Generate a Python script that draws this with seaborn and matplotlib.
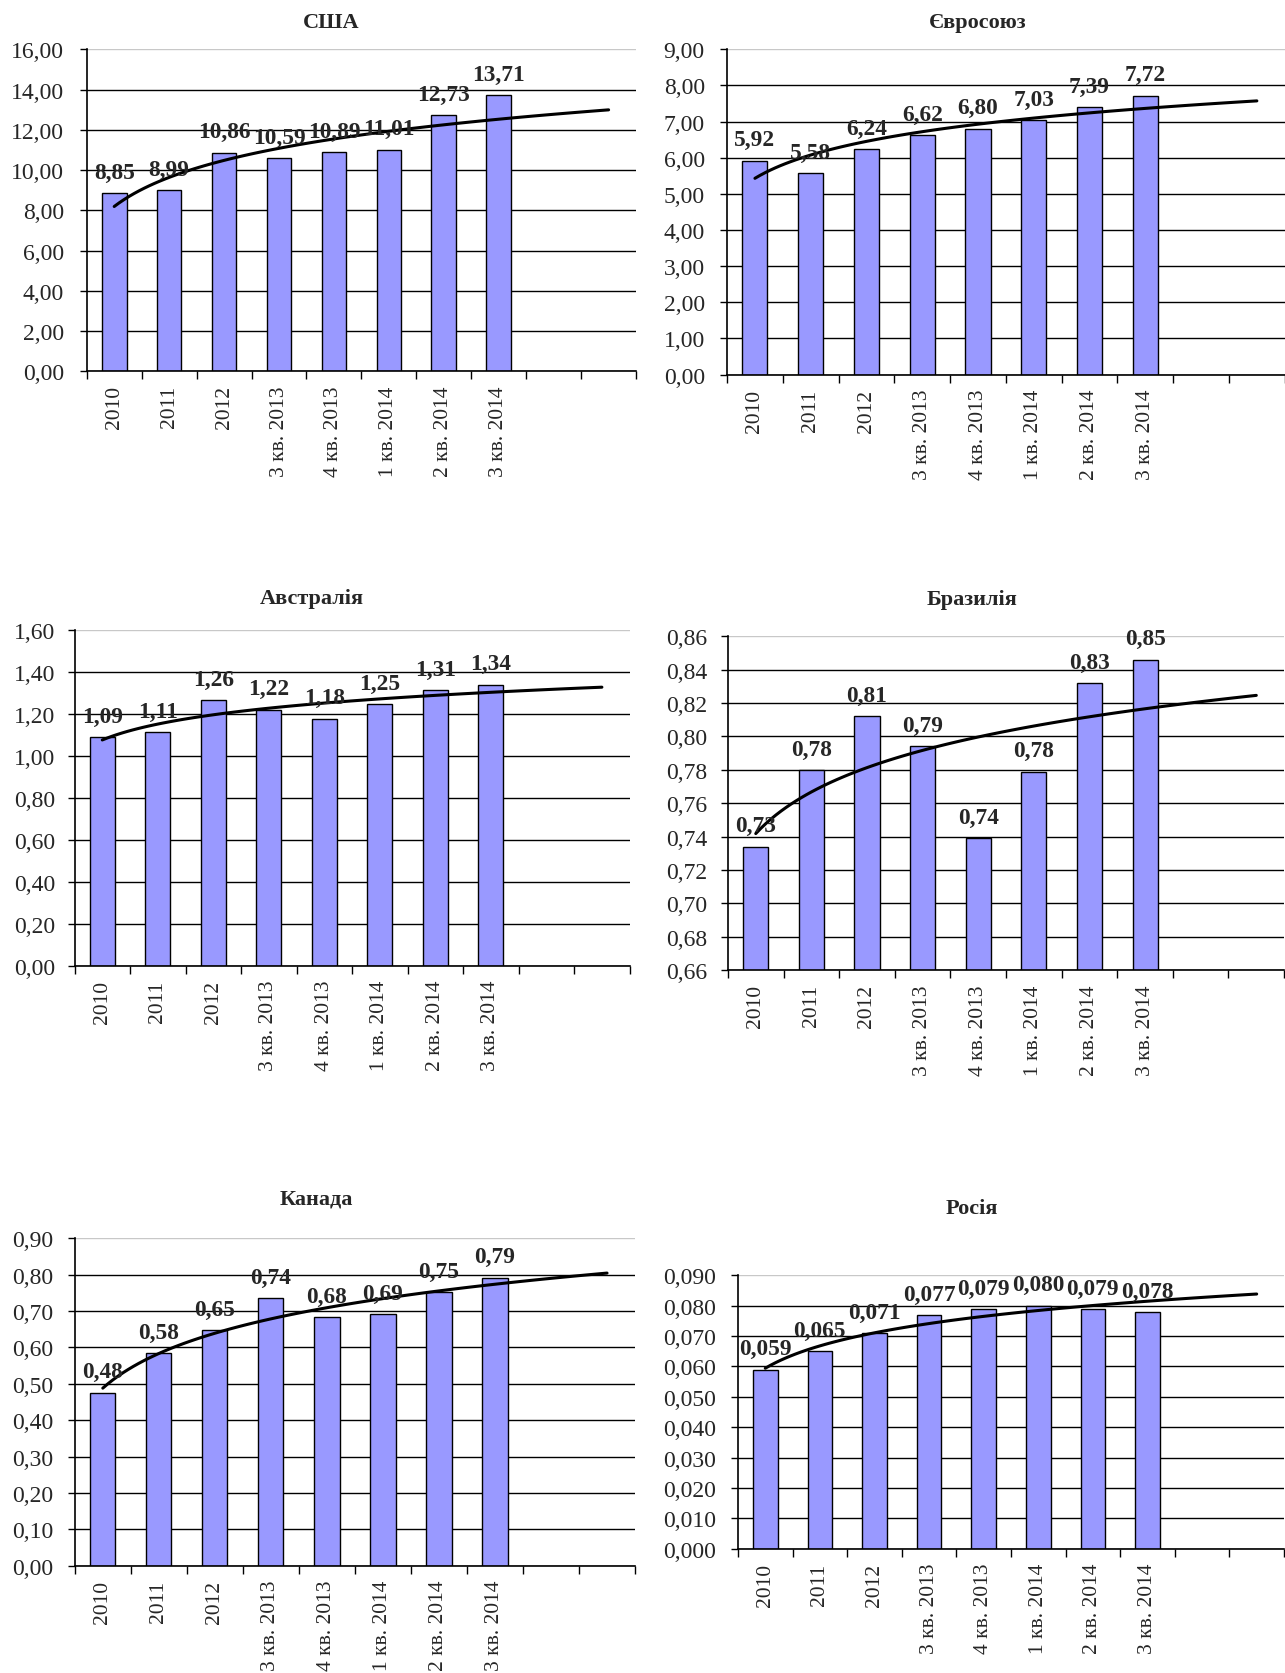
import numpy as np
import pandas as pd
import matplotlib
matplotlib.use("Agg")
import matplotlib.pyplot as plt
import seaborn as sns
from matplotlib.ticker import FixedLocator, FuncFormatter

# Дані (зчитані з діаграм)
CATEGORIES = ["2010", "2011", "2012", "3 кв. 2013", "4 кв. 2013",
              "1 кв. 2014", "2 кв. 2014", "3 кв. 2014"]
USA = [8.85, 8.99, 10.86, 10.59, 10.89, 11.01, 12.73, 13.71]
EU = [5.92, 5.58, 6.24, 6.62, 6.80, 7.03, 7.39, 7.72]
AUSTRALIA = [1.09, 1.114, 1.265, 1.22, 1.178, 1.248, 1.312, 1.34]
BRAZIL = [0.734, 0.780, 0.812, 0.794, 0.739, 0.779, 0.832, 0.846]
CANADA = [0.476, 0.584, 0.648, 0.736, 0.682, 0.691, 0.751, 0.791]
RUSSIA = [0.059, 0.065, 0.071, 0.077, 0.079, 0.080, 0.079, 0.078]
TITLES = ["США", "Євросоюз", "Австралія", "Бразилія", "Канада", "Росія"]

N_SLOTS = 10          # 8 періодів + 2 періоди прогнозу тренду
BAR_COLOR = "#9999FF"
FONT = ["Liberation Serif", "DejaVu Serif"]

sns.set_theme(style="white")
plt.rcParams["font.family"] = FONT

fig = plt.figure(figsize=(12.85, 16.74), dpi=100)


def draw_panel(rect, title_xy, title, values, ylim, step, decimals, ypad):
    ax = fig.add_axes(rect)
    df = pd.DataFrame({"pos": np.arange(1, len(values) + 1), "value": values})

    sns.barplot(data=df, x="pos", y="value", native_scale=True, width=0.45,
                color=BAR_COLOR, saturation=1, edgecolor="black", linewidth=1.0,
                errorbar=None, ax=ax, zorder=3)

    # логарифмічний тренд (як в Excel) від першого до десятого періоду
    ax.set_xlim(1, N_SLOTS)
    sns.regplot(data=df, x="pos", y="value", logx=True, ci=None, scatter=False,
                truncate=False, ax=ax,
                line_kws=dict(color="black", lw=2.2, zorder=4))
    ax.set_xlim(0.5, N_SLOTS + 0.5)

    # вісь Y
    ymin, ymax = ylim
    n = int(round((ymax - ymin) / step))
    ax.set_ylim(ymin, ymax)
    ax.set_yticks(np.linspace(ymin, ymax, n + 1))
    ax.yaxis.set_major_formatter(
        FuncFormatter(lambda v, p: f"{v:.{decimals}f}".replace(".", ",")))
    ax.yaxis.grid(True, color="black", lw=1.0)
    ax.get_ygridlines()[-1].set_color("#c8c8c8")
    ax.set_axisbelow(True)

    # вісь X: риски між категоріями, підписи по центру
    ax.xaxis.set_major_locator(FixedLocator(np.arange(0.5, N_SLOTS + 1, 1)))
    ax.xaxis.set_major_formatter(FuncFormatter(lambda v, p: ""))
    ax.xaxis.set_minor_locator(FixedLocator(np.arange(1, len(CATEGORIES) + 1)))
    ax.set_xticklabels(CATEGORIES, minor=True, rotation=90, va="top",
                       ha="center", fontsize=15.5)
    ax.tick_params(axis="x", which="major", length=6, width=1.0,
                   direction="out", color="black", bottom=True)
    ax.tick_params(axis="x", which="minor", length=0, pad=10, bottom=True)
    ax.tick_params(axis="y", length=5, width=1.0, direction="out",
                   color="black", labelsize=17, pad=ypad, left=True)
    ax.set_xlabel("")
    ax.set_ylabel("")

    for side in ("top", "right"):
        ax.spines[side].set_visible(False)
    for side in ("left", "bottom"):
        ax.spines[side].set_color("black")
        ax.spines[side].set_linewidth(1.2)
        ax.spines[side].set_zorder(5)

    # підписи значень
    for x, v in zip(df["pos"], df["value"]):
        ax.annotate(f"{v:.{decimals}f}".replace(".", ","), (x, v),
                    xytext=(0, 15), textcoords="offset points",
                    ha="center", va="center", fontsize=16.8,
                    fontweight="bold", zorder=6)

    fig.text(title_xy[0], title_xy[1], title, ha="center", va="center",
             fontsize=16, fontweight="bold")
    return ax


draw_panel([0.0675, 0.7775, 0.4275, 0.1925], (0.2576, 0.986), TITLES[0],
           USA, (0, 16), 2, 2, 11.5)
draw_panel([0.5658, 0.7756, 0.4340, 0.1944], (0.7608, 0.986), TITLES[1],
           EU, (0, 9), 1, 2, 11)
draw_panel([0.0580, 0.4223, 0.4320, 0.2008], (0.2425, 0.6423), TITLES[2],
           AUSTRALIA, (0, 1.6), 0.2, 2, 9)
draw_panel([0.5665, 0.4198, 0.4328, 0.1995], (0.7564, 0.6416), TITLES[3],
           BRAZIL, (0.66, 0.86), 0.02, 2, 10)
draw_panel([0.0582, 0.0640, 0.4360, 0.1958], (0.2459, 0.2834), TITLES[4],
           CANADA, (0, 0.9), 0.1, 2, 10.5)
draw_panel([0.5743, 0.0743, 0.4249, 0.1632], (0.7564, 0.2778), TITLES[5],
           RUSSIA, (0, 0.09), 0.01, 3, 10.5)

fig.savefig("out.png", dpi=100, facecolor="white")
